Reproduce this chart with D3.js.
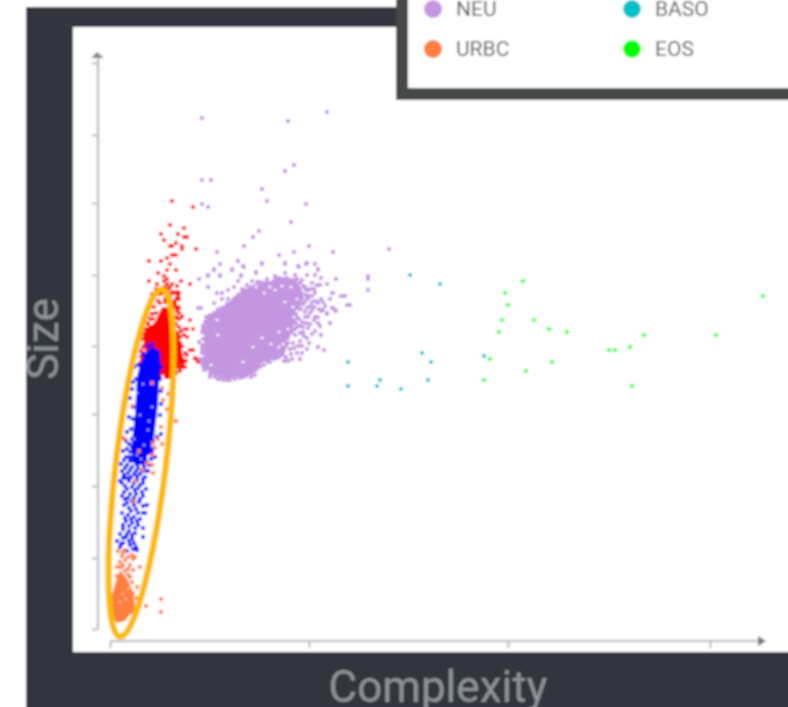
<!DOCTYPE html>
<html><head><meta charset="utf-8">
<script src="https://cdn.jsdelivr.net/npm/d3@7"></script>
<style>html,body{margin:0;padding:0;background:#fff;overflow:hidden}svg{display:block;font-family:Roboto,sans-serif}</style>
</head><body><svg id="c" width="788" height="707"></svg>
<script>
const legendItems=["NEU","URBC","BASO","EOS"];
const legendColors=["#c496e2","#ff7f3f","#00c0c8","#00ff00"];
const xTicks=[0,199,398,600];
const yTicks=[0,71,143,215,283,354,426,494,566];
const xLabel="Complexity", yLabel="Size";
const ringAnn={cx:31,cy:166,rx:25,ry:175,angle:6.9};

const eos=[[413,348],[395,336],[398,324],[392,309],[424,309],[439,300],[389,297],[457,297],[534,294],[606,294],[653,333],[520,282],[499,279],[505,279],[380,270],[442,267],[416,258],[374,249],[522,243]];
const baso=[[300,354],[330,345],[312,276],[321,267],[374,273],[238,267],[238,243],[270,249],[267,243],[291,240],[318,249]];
const neuCore=[[93,264],[94,289],[96,312],[110,319],[122,330],[133,340],[153,346],[170,351],[186,349],[194,335],[190,322],[185,306],[177,289],[172,274],[152,266],[142,254],[118,250],[102,254]];
const neuGaps=[[175,327],[107,309],[108,294],[169,297],[152,291],[161,285],[143,282],[169,282],[133,267],[101,264],[187,318],[154,336],[165,339],[184,312],[178,300],[173,285],[181,342],[172,343],[160,342],[146,342],[187,330],[183,322]];
const neu=[[217,517],[178,508],[92,511],[184,464],[175,458],[92,449],[101,449],[152,440],[157,428],[92,425],[98,422],[196,425],[181,407],[149,398],[143,392],[134,383],[107,377],[184,377],[199,383],[169,374],[223,377],[279,380],[128,368],[110,365],[152,365],[175,365],[205,365],[189,362],[196,365],[104,359],[122,359],[134,362],[208,359],[98,353],[110,353],[131,353],[146,356],[89,350],[258,353],[258,350],[226,350],[98,342],[258,339],
[231,333],[235,333],[237,324],[240,324],[220,306],[214,279],[208,282],[211,294],[223,321],[226,318],[217,315],[211,318],[208,312],[223,336],[217,345],[208,360],[211,351],[190,270],
[128,368],[152,366],[175,366],[188,363],[197,366],[104,360],[122,360],[133,363],[146,357],[91,321],[88,321],[92,297],[112,336],[107,336],[118,339],[124,342],[128,348],[142,348],[104,326],[112,330],[118,330],[112,321],[107,317],[122,317],[115,316],[222,336],[225,319],[217,316],[222,321],[220,306],[210,303],[202,319],[211,330],[220,330],[213,327],[202,327],[197,321],[205,336],[198,339],[210,344],[202,346],[192,349],[157,350],[165,353],[175,356],[185,354],[177,351],[137,344],[135,339],[147,347],[138,336],[157,341],[163,341],[195,312],[187,312],[192,307],[198,301],[187,302],[181,300],[202,295],[211,294],[197,291],[185,294],[178,291],[183,286],[208,282],[190,270],[182,270],[173,276],[163,274],[160,267],[148,263],[155,272],[167,271],[185,317],[207,344],[89,287],[93,284],[92,279],[100,252],[128,256],[138,256],[98,276],[92,266],[197,354],[205,354],[98,354],[110,354],[131,354],[195,342],[200,333],[195,327],[190,340],[180,339],[175,342],[205,312],[198,312],[193,297],[190,288],[180,280],[174,268],[133,252],[118,249],[108,250],[115,322],[125,331],[141,342],[150,347],[93,300],[90,270],[94,259],
[96,312],[100,314],[104,316],[108,320],[113,319],[117,325],[120,322],[124,330],[128,328],[128,334],[132,340],[136,333],[141,340],[145,343],[149,341],[153,346],[157,346],[161,346],[165,349],[169,351],[173,350],[179,349],[183,349],[187,350],[190,346],[193,343],[196,339],[196,334],[192,330],[197,330],[193,325],[191,320],[195,317],[189,310],[186,306],[190,303],[182,297],[185,300],[179,295],[176,283],[174,279],[178,286],[172,274],[169,272],[164,270],[158,267],[154,264],[150,262],[146,259],[145,254],[141,252],[136,253],[130,251],[125,250],[120,249],[114,249],[110,250],[105,252],[100,255],[96,260],[93,263],[92,270],[92,276],[92,283],[93,290],[94,296],[93,303],[95,307],[98,312],
[200,340],[204,340],[198,331],[202,333],[206,328],[200,323],[204,322],[208,326],[209,320],[213,319],[215,323],[200,316],[204,309],[208,306],[196,306],[193,302],[200,305],[205,298],[190,296],[194,293],[188,283],[184,281],[192,283],[199,286],[181,275],[187,276],[176,272],[178,268],[192,276],[197,280]];
const redCore=[[45,307],[52,322],[62,321],[66,299],[74,269],[62,253],[40,256],[35,279],[33,296]];
const red=[[62,428],[83,422],[60,404],[74,401],[51,395],[68,395],[74,392],[77,392],[54,389],[62,383],[60,383],[72,383],[72,380],[66,386],[86,380],[62,374],[66,374],[57,371],[51,368],[39,368],[60,365],[66,359],[57,359],[54,353],[48,356],[39,348],[57,350],[71,348],[80,345],[54,348],[60,342],[57,345],[69,336],[63,336],[66,336],[69,330],[66,330],[63,327],[69,321],[72,312],[66,312],[80,309],[77,300],[83,300],[68,296],[74,294],[62,300],[83,279],[80,279],[86,270],
[52,339],[62,337],[67,337],[68,332],[46,340],[40,329],[37,312],[68,322],[72,313],[67,311],[75,300],[70,292],[77,292],[82,279],[77,274],[85,271],[88,267],[73,266],[68,262],[32,269],[30,266],[33,282],[37,299],[40,302],[65,282],[70,279],[68,272],[33,276],[70,272],[50,256],[55,258],[63,262],[72,262],[73,269],[42,315],[55,330],[48,328],[60,328],[65,326],[43,310],[69,316],[66,292],[70,286],[66,268],[58,252],[45,253],[36,264],[34,272],[38,305],[33,290],
[44,322],[46,316],[41,310],[38,306],[36,300],[33,295],[50,326],[55,327],[60,325],[64,322],[67,318],[69,310],[66,305],[69,302],[71,298],[68,288],[72,283],[75,276],[76,268],[75,262],[70,258],[66,256],[62,254],[56,252],[50,252],[44,254],[38,258],[34,262],[31,273],[35,285],[31,278],[42,335],[50,335],[55,342],[60,333],[47,345],[53,336],[58,340],[62,345],[67,343]];
const blueCore=[[42,283],[50,278],[51,262],[49,245],[48,225],[46,208],[44,192],[39,176],[33,165],[25,163],[21,180],[23,196],[25,215],[26,235],[27,252],[30,265],[35,275]];
const blueGaps=[[27,236],[42,222],[30,214],[38,199],[33,245],[34,184],[27,174],[24,190],[39,208],[31,170]];
const blue=[[22,240],[20,231],[23,222],[51,238],[51,225],[50,214],[23,210],[19,212],[21,200],[17,197],[25,196],[12,191],[16,188],[22,190],[28,186],[34,185],[40,185],[47,192],[51,195],[44,181],[36,180],[30,180],[22,182],[17,180],[13,178],[26,175],[32,174],[40,176],[45,172],[19,172],[24,168],[30,168],[36,168],[14,169],[11,165],[17,164],[22,162],[28,161],[34,162],[38,158],[12,158],[18,156],[24,155],[30,155],[35,152],[13,151],[10,148],[19,148],[27,149],[33,146],[15,143],[22,142],[28,141],[36,140],[14,137],[20,135],[26,135],[33,133],[15,130],[22,128],[29,127],[37,124],[14,124],[19,121],[26,120],[33,116],[35,116],[12,116],[18,114],[24,112],[30,110],[16,108],[22,106],[28,104],[33,101],[33,92],[13,100],[19,98],[25,96],[10,95],[16,92],[22,90],[7,88],[13,86],[20,84],[26,82],[27,79],[10,82],[17,78],[23,80],[24,262],[26,250],[23,247],[50,250],[51,262],[38,283],[42,285],[33,275],[28,264],
[27,192],[32,190],[38,190],[24,186],[31,186],[37,186],[43,188],[19,185],[26,181],[33,181],[40,180],[20,177],[29,177],[36,176],[42,177],[23,172],[28,172],[35,172],[41,170],[16,172],[20,168],[27,165],[33,166],[39,164],[15,161],[20,159],[26,158],[32,158],[36,158],[14,154],[21,152],[27,153],[33,150],[17,151],[12,146],[24,146],[30,144],[17,140],[25,139],[32,137],[12,133],[18,131],[24,131],[30,130],[17,126],[24,124],[33,123],[21,118],[28,116],[15,111],[21,110],[27,108],[13,104],[19,103],[25,101],[17,95],[22,94],[13,91],[19,88],[11,85],[24,86]];
const urbcCore=[[10,59],[18,49],[24,34],[25,21],[15,8],[7,6],[0,14],[1,30],[5,45]];
const urbcGaps=[[13,35],[16,30],[10,27],[18,40]];
const urbc=[[51,30],[51,17],[36,23],[26,21],[27,42],[30,62],[23,59],[18,54],[7,53],[10,67],[15,69],[8,78],[13,77],[12,73],[22,74],[25,72],[23,70],[20,64],[13,64],[22,47],[23,36],[18,36],[27,31],[0,22],[0,14],[20,39],[22,17],[42,246],[52,241],[53,229],[58,235],[57,220],[66,208],[51,202],[48,190],[43,186],[15,190],[52,185],[45,181],[42,174],[42,164],[37,166],[33,159],[43,156],[22,223],[29,178],[25,148],[24,128],[15,79],[18,72],[11,62],[15,58],[18,60],[7,62],[20,52]];

const x=d3.scaleLinear().domain([0,600]).range([110,710]);
const y=d3.scaleLinear().domain([0,566]).range([629,63]);
const svg=d3.select("#c");
const defs=svg.append("defs");
defs.append("filter").attr("id","soft").attr("filterUnits","userSpaceOnUse").attr("x",-20).attr("y",-20).attr("width",840).attr("height",760)
  .append("feGaussianBlur").attr("stdDeviation",0.85);
const root=svg.append("g").attr("filter","url(#soft)");
root.append("rect").attr("x",-20).attr("y",-20).attr("width",840).attr("height",760).attr("fill","#fff");
root.append("rect").attr("x",26).attr("y",7).attr("width",790).attr("height",730).attr("fill","#32363e");
root.append("rect").attr("x",73).attr("y",27).attr("width",740).attr("height",625).attr("fill","#fff");

// axes
const axisCol="#c4c4c4", tickCol="#a8a8a8";
const gy=root.append("g").attr("transform","translate(98,0)").call(d3.axisLeft(y).tickValues(yTicks).tickSize(6).tickFormat(""));
const gx=root.append("g").attr("transform","translate(0,641)").call(d3.axisBottom(x).tickValues(xTicks).tickSize(7).tickFormat(""));
[gy,gx].forEach(g=>{g.select(".domain").remove();g.selectAll("line").attr("stroke",tickCol).attr("stroke-width",1.6);});
root.append("line").attr("x1",98).attr("x2",98).attr("y1",y(0)).attr("y2",56).attr("stroke",axisCol).attr("stroke-width",2.6);
root.append("line").attr("x1",x(0)).attr("x2",760).attr("y1",641).attr("y2",641).attr("stroke",axisCol).attr("stroke-width",2.6);
root.append("path").attr("d","M91,58L97,52L104,58Z").attr("fill","#888");
root.append("path").attr("d","M758,636L766,641L758,646Z").attr("fill","#777");

// points
const line=d3.line().x(d=>x(d[0])).y(d=>y(d[1])).curve(d3.curveLinearClosed);
const sz=3.8;
function marks(data,col,s){root.append("g").selectAll("rect").data(data).join("rect")
  .attr("x",d=>x(d[0])-s/2).attr("y",d=>y(d[1])-s/2).attr("width",s).attr("height",s).attr("fill",col);}
function core(poly,col){root.append("path").attr("d",line(poly)).attr("fill",col);}
core(neuCore,legendColors[0]); marks(neu,legendColors[0],sz); marks(neuGaps,"#fff",2.4);
core(redCore,"#ff0000"); marks(red,"#ff0000",sz);
core(blueCore,"#0000ff"); marks(blue,"#0000ff",sz); marks(blueGaps,"#aaaaff",2);
core(urbcCore,legendColors[1]); marks(urbc,legendColors[1],sz); marks(urbcGaps,"#ffc8a8",2);
marks(baso,legendColors[2],3.6);
marks(eos,legendColors[3],3.6);

// ring
root.append("ellipse").attr("cx",x(ringAnn.cx)).attr("cy",y(ringAnn.cy)).attr("rx",ringAnn.rx).attr("ry",ringAnn.ry)
  .attr("transform",`rotate(${ringAnn.angle} ${x(ringAnn.cx)} ${y(ringAnn.cy)})`)
  .attr("fill","none").attr("stroke","#ffb900").attr("stroke-width",6.2);

// titles
root.append("text").attr("x",438).attr("y",702).attr("text-anchor","middle").attr("font-size",44).attr("fill","#8d939a").text(xLabel);
root.append("text").attr("transform","translate(58,339) rotate(-90)").attr("text-anchor","middle").attr("font-size",44).attr("fill","#8d939a").text(yLabel);

// legend
root.append("rect").attr("x",396).attr("y",-30).attr("width",420).attr("height",130).attr("fill","#454648");
root.append("rect").attr("x",408).attr("y",-30).attr("width",410).attr("height",118).attr("fill","#fff");
const lx=[433,433,632,632], ly=[9,49,9,49];
legendItems.forEach((t,i)=>{
  root.append("circle").attr("cx",lx[i]).attr("cy",ly[i]).attr("r",9).attr("fill",legendColors[i]);
  root.append("text").attr("x",lx[i]+23).attr("y",ly[i]+7).attr("font-size",21).attr("fill","#5a5a5a").text(t);
});
</script></body></html>
